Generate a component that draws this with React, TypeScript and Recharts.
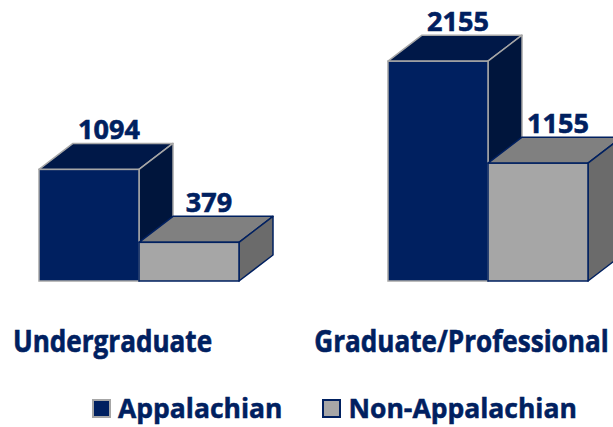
import React from 'react';
import { BarChart, Bar, XAxis, YAxis, Legend, LabelList } from 'recharts';

const categories = ['Undergraduate', 'Graduate/Professional'];
const appalachian = [1094, 2155];
const nonAppalachian = [379, 1155];
const seriesNames = ['Appalachian', 'Non-Appalachian'];

const data = categories.map((c, i) => ({
  name: c,
  app: appalachian[i],
  non: nonAppalachian[i],
}));

const NAVY = '#002060';
const DX = 34;
const DY = 26;
const FONT = "'Open Sans', sans-serif";

type Palette = { front: string; top: string; side: string; stroke: string };
const navyPal: Palette = { front: '#002060', top: '#001848', side: '#00153c', stroke: '#a6a6a6' };
const grayPal: Palette = { front: '#a6a6a6', top: '#808080', side: '#6b6b6b', stroke: '#002060' };

const makeBox = (p: Palette) => (props: any) => {
  const { x, y, width: w, height: h } = props;
  if (w == null || h == null) return null;
  const top = `${x},${y} ${x + DX},${y - DY} ${x + w + DX},${y - DY} ${x + w},${y}`;
  const side = `${x + w},${y} ${x + w + DX},${y - DY} ${x + w + DX},${y + h - DY} ${x + w},${y + h}`;
  return (
    <g>
      <polygon points={top} fill={p.top} stroke={p.stroke} strokeWidth={1.5} strokeLinejoin="round" />
      <polygon points={side} fill={p.side} stroke={p.stroke} strokeWidth={1.5} strokeLinejoin="round" />
      <rect x={x} y={y} width={w} height={h} fill={p.front} stroke={p.stroke} strokeWidth={1.5} />
    </g>
  );
};

const ValueLabel = (props: any) => {
  const { x, y, width, value } = props;
  return (
    <text
      x={x + width / 2 + 20}
      y={y - 30}
      textAnchor="middle"
      fill={NAVY}
      stroke={NAVY}
      strokeWidth={0.6}
      fontFamily={FONT}
      fontWeight={700}
      fontSize={27}
    >
      {value}
    </text>
  );
};

const CatTick = (props: any) => {
  const { x, y, payload } = props;
  return (
    <g transform={`translate(${x - 26},${y}) scale(0.87,1)`}>
      <text
        x={0}
        y={0}
        dy={63}
        textAnchor="middle"
        fill={NAVY}
        stroke={NAVY}
        strokeWidth={0.6}
        fontFamily={FONT}
        fontWeight={700}
        fontSize={30}
      >
        {payload.value}
      </text>
    </g>
  );
};

const LegendContent = () => {
  const items = [
    { name: seriesNames[0], fill: navyPal.front, border: navyPal.stroke },
    { name: seriesNames[1], fill: grayPal.front, border: grayPal.stroke },
  ];
  return (
    <div
      style={{
        display: 'flex',
        alignItems: 'center',
        fontFamily: FONT,
        fontWeight: 700,
        fontSize: 26.5,
        color: NAVY,
        WebkitTextStroke: `0.5px ${NAVY}`,
        whiteSpace: 'nowrap',
      }}
    >
      {items.map((it, i) => (
        <div key={it.name} style={{ display: 'flex', alignItems: 'center', marginRight: i === 0 ? 40 : 0 }}>
          <span
            style={{
              display: 'inline-block',
              width: 15,
              height: 15,
              background: it.fill,
              border: `2px solid ${it.border}`,
              marginRight: 7,
            }}
          />
          <span style={{ lineHeight: '30px' }}>{it.name}</span>
        </div>
      ))}
    </div>
  );
};

export default function App() {
  return (
    <div style={{ position: 'absolute', left: -36, top: 0 }}>
      <BarChart
        width={720}
        height={427}
        data={data}
        margin={{ top: 26, right: 22, left: 0, bottom: 0 }}
        barGap={0}
        barSize={100}
      >
        <XAxis dataKey="name" axisLine={false} tickLine={false} height={146} tick={<CatTick />} interval={0} />
        <YAxis hide domain={[0, 2500]} />
        <Legend
          layout="horizontal"
          verticalAlign="middle"
          align="center"
          content={<LegendContent />}
          wrapperStyle={{ position: 'absolute', left: 128, top: 393, width: 'auto' }}
        />
        <Bar dataKey="app" name={seriesNames[0]} shape={makeBox(navyPal)} isAnimationActive={false}>
          <LabelList dataKey="app" content={<ValueLabel />} />
        </Bar>
        <Bar dataKey="non" name={seriesNames[1]} shape={makeBox(grayPal)} isAnimationActive={false}>
          <LabelList dataKey="non" content={<ValueLabel />} />
        </Bar>
      </BarChart>
    </div>
  );
}
